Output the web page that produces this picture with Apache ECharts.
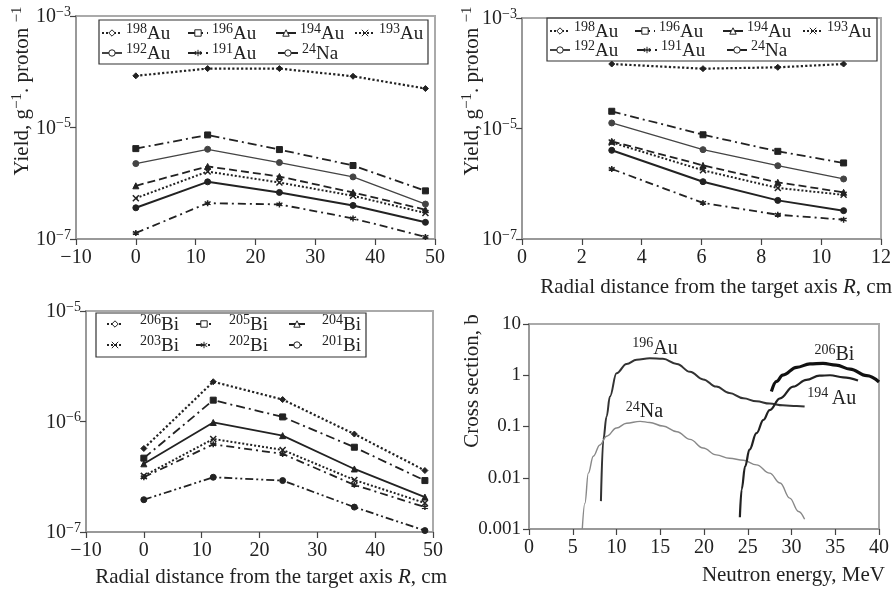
<!DOCTYPE html>
<html><head><meta charset="utf-8">
<script src="https://cdn.jsdelivr.net/npm/echarts@6/dist/echarts.min.js"></script>
<style>html,body{margin:0;padding:0;background:#fff}#c{width:894px;height:593px}</style>
</head><body><div id="c"></div>
<script>
// ---------- Panel A: yield vs distance along target (cm) ----------
const xA = [0, 12, 24, 36.3, 48.4];
const au198A = [8.45e-5, 1.14e-4, 1.14e-4, 8.3e-5, 5.0e-5];
const au196A = [4.18e-6, 7.35e-6, 4.02e-6, 2.08e-6, 7.3e-7];
const au192A = [2.25e-6, 4.07e-6, 2.35e-6, 1.30e-6, 4.23e-7];
const au194A = [9.0e-7, 2.0e-6, 1.32e-6, 6.84e-7, 3.35e-7];
const au193A = [5.4e-7, 1.62e-6, 1.03e-6, 5.96e-7, 2.92e-7];
const na24A  = [3.63e-7, 1.06e-6, 6.84e-7, 4.0e-7, 1.99e-7];
const au191A = [1.28e-7, 4.4e-7, 4.17e-7, 2.34e-7, 1.09e-7];

// ---------- Panel B: yield vs radial distance (cm) ----------
const xB = [3.0, 6.05, 8.55, 10.75];
const au198B = [1.47e-4, 1.21e-4, 1.28e-4, 1.47e-4];
const au196B = [2.05e-5, 7.7e-6, 3.86e-6, 2.38e-6];
const au192B = [1.26e-5, 4.14e-6, 2.12e-6, 1.22e-6];
const au194B = [5.86e-6, 2.15e-6, 1.06e-6, 7.0e-7];
const au193B = [5.6e-6, 1.75e-6, 8.4e-7, 6.3e-7];
const na24B  = [4.03e-6, 1.09e-6, 5.0e-7, 3.26e-7];
const au191B = [1.85e-6, 4.5e-7, 2.75e-7, 2.24e-7];

// ---------- Panel C: Bi yields ----------
const xC = [0, 12, 24, 36.4, 48.6];
const bi206 = [5.7e-7, 2.29e-6, 1.58e-6, 7.7e-7, 3.6e-7];
const bi205 = [4.66e-7, 1.56e-6, 1.10e-6, 5.85e-7, 2.92e-7];
const bi204 = [4.14e-7, 9.8e-7, 7.45e-7, 3.72e-7, 2.07e-7];
const bi203 = [3.22e-7, 6.95e-7, 5.53e-7, 2.96e-7, 1.83e-7];
const bi202 = [3.13e-7, 6.22e-7, 5.09e-7, 2.67e-7, 1.68e-7];
const bi201 = [1.96e-7, 3.13e-7, 2.92e-7, 1.68e-7, 1.03e-7];

// ---------- Panel D: cross sections (b) vs neutron energy (MeV) ----------
const csAu196E = [8.22, 8.49, 8.87, 9.25, 10.0, 11.15, 12.3, 13.8, 15.3, 16.9, 18.4, 19.9, 21.4, 22.9, 24.5, 26.0, 27.5, 29.0, 30.6, 31.5];
const csAu196  = [0.0035, 0.055, 0.157, 0.384, 1.09, 1.66, 2.0, 2.14, 2.09, 1.66, 1.17, 0.83, 0.60, 0.45, 0.355, 0.31, 0.28, 0.26, 0.25, 0.245];
const csNa24E  = [6.09, 6.39, 6.78, 7.35, 8.1, 8.87, 10.0, 11.15, 12.7, 13.8, 15.3, 16.9, 18.4, 19.9, 21.4, 22.9, 24.5, 26.0, 27.5, 28.7, 29.8, 30.8, 31.5];
const csNa24   = [0.001, 0.0032, 0.0123, 0.0263, 0.0437, 0.0646, 0.0933, 0.116, 0.126, 0.120, 0.102, 0.079, 0.056, 0.038, 0.028, 0.024, 0.022, 0.0178, 0.0123, 0.0079, 0.0040, 0.0022, 0.00155];
const csAu194E = [24.1, 24.3, 24.7, 25.2, 26.0, 26.8, 27.5, 28.7, 30.2, 31.7, 33.2, 34.4, 35.9, 37.6];
const csAu194  = [0.0017, 0.0059, 0.0166, 0.0355, 0.074, 0.135, 0.209, 0.355, 0.60, 0.81, 0.98, 1.0, 0.91, 0.79];
const csBi206E = [27.7, 28.3, 29.0, 30.6, 32.1, 33.6, 35.1, 36.7, 38.6, 40.0];
const csBi206  = [0.48, 0.76, 1.01, 1.43, 1.66, 1.70, 1.58, 1.32, 0.98, 0.74];

// tick labels for the cross-section axis
const csTickLabels = ['0.001', '0.01', '0.1', '1', '10'];

const FONT = '"Liberation Serif","DejaVu Serif",serif';
const INK = '#222';
const rich = {
  n: {fontSize: 19, fontFamily: FONT, color: INK, verticalAlign: 'bottom', lineHeight: 22},
  N: {fontSize: 20, fontFamily: FONT, color: INK, verticalAlign: 'bottom', lineHeight: 22},
  s: {fontSize: 14, fontFamily: FONT, color: INK, verticalAlign: 'top', lineHeight: 22},
  i: {fontSize: 21, fontFamily: FONT, color: INK, fontStyle: 'italic'},
  t: {fontSize: 21, fontFamily: FONT, color: INK},
  ts: {fontSize: 15, fontFamily: FONT, color: INK, verticalAlign: 'top', lineHeight: 24}
};
const nuc = name => { const m = name.match(/^(\d+)(.*)$/); return '{s|' + m[1] + '}{n|' + m[2] + '}'; };
const logLab = v => '{N|10}{s|\u2212' + (-Math.round(Math.log10(v))) + '}';

const crossPath = 'path://M0,0L10,10M10,0L0,10';
const starPath = 'path://M5,0L5,10M0,2.5L10,7.5M10,2.5L0,7.5';
const styles = {
  '198Au': {type: 'dotted', width: 2.2, symbol: 'diamond'},
  '196Au': {type: [9, 4, 2, 4], width: 1.8, symbol: 'rect'},
  '194Au': {type: [8, 4], width: 1.8, symbol: 'triangle'},
  '193Au': {type: 'dotted', width: 2, symbol: crossPath, stroke: true},
  '192Au': {type: 'solid', width: 1.3, symbol: 'circle', color: '#444'},
  '191Au': {type: [8, 4, 2, 4], width: 1.8, symbol: starPath, stroke: true},
  '24Na':  {type: 'solid', width: 2, symbol: 'circle'},
  '206Bi': {type: 'dotted', width: 2.2, symbol: 'diamond'},
  '205Bi': {type: [9, 4, 2, 4], width: 1.8, symbol: 'rect'},
  '204Bi': {type: 'solid', width: 1.8, symbol: 'triangle'},
  '203Bi': {type: 'dotted', width: 2, symbol: crossPath, stroke: true},
  '202Bi': {type: [8, 4, 2, 4], width: 1.8, symbol: starPath, stroke: true},
  '201Bi': {type: [8, 3, 2, 3, 2, 3], width: 1.8, symbol: 'circle'}
};

function pointSeries(name, xs, ys, gi) {
  const st = styles[name];
  const col = st.color || INK;
  return {
    name, type: 'line', xAxisIndex: gi, yAxisIndex: gi,
    data: xs.map((x, i) => [x, ys[i]]),
    symbol: st.symbol, symbolSize: 6, showSymbol: true,
    lineStyle: {color: col, width: st.width, type: st.type},
    itemStyle: st.stroke ? {color: col, borderColor: col, borderWidth: 1.5} : {color: col, borderColor: col},
    animation: false, silent: true
  };
}

const grids = [
  {left: 76, top: 16, width: 359, height: 223},
  {left: 522, top: 18, width: 359, height: 221},
  {left: 86, top: 311, width: 347, height: 221},
  {left: 529, top: 324, width: 350, height: 205}
].map(g => Object.assign(g, {show: true, borderColor: '#aaa', borderWidth: 2, containLabel: false}));

const axisCommon = {
  axisLine: {show: true, onZero: false, lineStyle: {color: '#999', width: 2}},
  axisTick: {show: true, inside: false, length: 6, lineStyle: {color: '#444', width: 1.2}},
  splitLine: {show: false},
  minorTick: {show: false}
};
function xAx(gi, min, max, interval) {
  return Object.assign({gridIndex: gi, type: 'value', min, max, interval,
    axisLabel: {margin: 9, fontFamily: FONT, fontSize: 20, color: INK,
      formatter: v => (v < 0 ? '\u2212' + (-v) : '' + v)}}, axisCommon);
}
function yLog(gi, min, max, interval, fmt) {
  return Object.assign({gridIndex: gi, type: 'log', logBase: 10, min, max, interval,
    axisLabel: {margin: 5, formatter: fmt, rich, fontFamily: FONT, fontSize: 20, color: INK}}, axisCommon);
}

const xAxis = [xAx(0, -10, 50, 10), xAx(1, 0, 12, 2), xAx(2, -10, 50, 10), xAx(3, 0, 40, 5)];
const yAxis = [
  yLog(0, 1e-7, 1e-3, 2, logLab),
  yLog(1, 1e-7, 1e-3, 2, logLab),
  yLog(2, 1e-7, 1e-5, 1, logLab),
  yLog(3, 0.001, 10, 1, v => csTickLabels[Math.round(Math.log10(v)) + 3])
];
yAxis[3].axisLabel.margin = 8;
yAxis[3].axisLabel.fontSize = 19;

const series = [
  pointSeries('198Au', xA, au198A, 0), pointSeries('196Au', xA, au196A, 0),
  pointSeries('194Au', xA, au194A, 0), pointSeries('193Au', xA, au193A, 0),
  pointSeries('192Au', xA, au192A, 0), pointSeries('191Au', xA, au191A, 0),
  pointSeries('24Na', xA, na24A, 0),
  pointSeries('198Au', xB, au198B, 1), pointSeries('196Au', xB, au196B, 1),
  pointSeries('194Au', xB, au194B, 1), pointSeries('193Au', xB, au193B, 1),
  pointSeries('192Au', xB, au192B, 1), pointSeries('191Au', xB, au191B, 1),
  pointSeries('24Na', xB, na24B, 1),
  pointSeries('206Bi', xC, bi206, 2), pointSeries('205Bi', xC, bi205, 2),
  pointSeries('204Bi', xC, bi204, 2), pointSeries('203Bi', xC, bi203, 2),
  pointSeries('202Bi', xC, bi202, 2), pointSeries('201Bi', xC, bi201, 2)
];

function curve(name, xs, ys, color, width, label) {
  return {
    name, type: 'line', xAxisIndex: 3, yAxisIndex: 3, smooth: 0.4, smoothMonotone: 'x',
    data: xs.map((x, i) => [x, ys[i]]), showSymbol: false, symbol: 'none',
    lineStyle: {color, width}, animation: false, silent: true,
    markPoint: {symbol: 'circle', symbolSize: 0, silent: true, animation: false,
      label: {show: true, position: 'inside', rich, formatter: label.text},
      data: [{coord: label.at}]}
  };
}
series.push(
  curve('cs196Au', csAu196E, csAu196, '#333', 2, {text: '{s|196}{N|Au}', at: [14.4, 3.5]}),
  curve('cs24Na', csNa24E, csNa24, '#888', 1.4, {text: '{s|24}{N|Na}', at: [13.2, 0.2]}),
  curve('cs194Au', csAu194E, csAu194, '#222', 2.2, {text: '{s|194} {N|Au}', at: [34.6, 0.37]}),
  curve('cs206Bi', csBi206E, csBi206, '#111', 3.2, {text: '{s|206}{N|Bi}', at: [34.9, 2.6]})
);

// legends: one component per entry
const legendSpec = [
  ['198Au', 101, 22], ['196Au', 187, 22], ['194Au', 275, 22], ['193Au', 354, 22],
  ['192Au', 101, 42], ['191Au', 187, 42], ['24Na', 277, 42],
  ['198Au', 549, 20], ['196Au', 634, 20], ['194Au', 722, 20], ['193Au', 802, 20],
  ['192Au', 549, 39], ['191Au', 636, 39], ['24Na', 726, 39]
];
const legendSpecBi = [
  ['206Bi', 106, 313], ['205Bi', 195, 313], ['204Bi', 288, 313],
  ['203Bi', 106, 334], ['202Bi', 195, 334], ['201Bi', 288, 334]
];
const legend = legendSpec.map(([name, left, top]) => ({
  data: [{name, itemStyle: {color: '#fff', borderColor: INK, borderWidth: 1}}],
  left, top, padding: 0, itemWidth: 20, itemHeight: 8, itemGap: 0, selectedMode: false,
  formatter: nuc, textStyle: {rich, fontFamily: FONT, fontSize: 19, color: INK, padding: [0, 0, 0, -1]}
})).concat(legendSpecBi.map(([name, left, top]) => ({
  data: [{name, itemStyle: {color: '#fff', borderColor: INK, borderWidth: 1}}],
  left, top, padding: 0, itemWidth: 16, itemHeight: 8, itemGap: 0, selectedMode: false,
  formatter: nuc, textStyle: {rich, fontFamily: FONT, fontSize: 19, color: INK, padding: [0, 0, 0, 12]}
})));

const box = (x, y, w, h) => ({type: 'rect', shape: {x, y, width: w, height: h}, z: 50,
  style: {fill: 'rgba(0,0,0,0)', stroke: '#333', lineWidth: 1.2}});
const vtext = (x, y, text) => ({type: 'text', x, y, rotation: Math.PI / 2, z: 50,
  style: {text, rich, font: '21px ' + FONT, fill: INK, align: 'center', verticalAlign: 'middle'}});
const htext = (x, y, text) => ({type: 'text', x, y, z: 50,
  style: {text, rich, font: '21px ' + FONT, fill: INK, align: 'right', verticalAlign: 'middle'}});
const yTitle = '{t|Yield, g}{ts|\u22121}{t|. proton }{ts|\u22121}';
const graphic = [
  box(99, 20, 329, 44), box(547, 18, 330, 43), box(96, 313, 270, 44),
  vtext(22, 91, yTitle), vtext(472, 91, yTitle), vtext(472, 381, '{t|Cross section, b}'),
  htext(892, 287, '{t|Radial distance from the target axis }{i|R}{t|, cm}'),
  htext(447, 577, '{t|Radial distance from the target axis }{i|R}{t|, cm}'),
  htext(885, 575, '{t|Neutron energy, MeV}')
];

const chart = echarts.init(document.getElementById('c'));
chart.setOption({backgroundColor: '#fff', animation: false, grid: grids, xAxis, yAxis, series, legend, graphic});
</script></body></html>
